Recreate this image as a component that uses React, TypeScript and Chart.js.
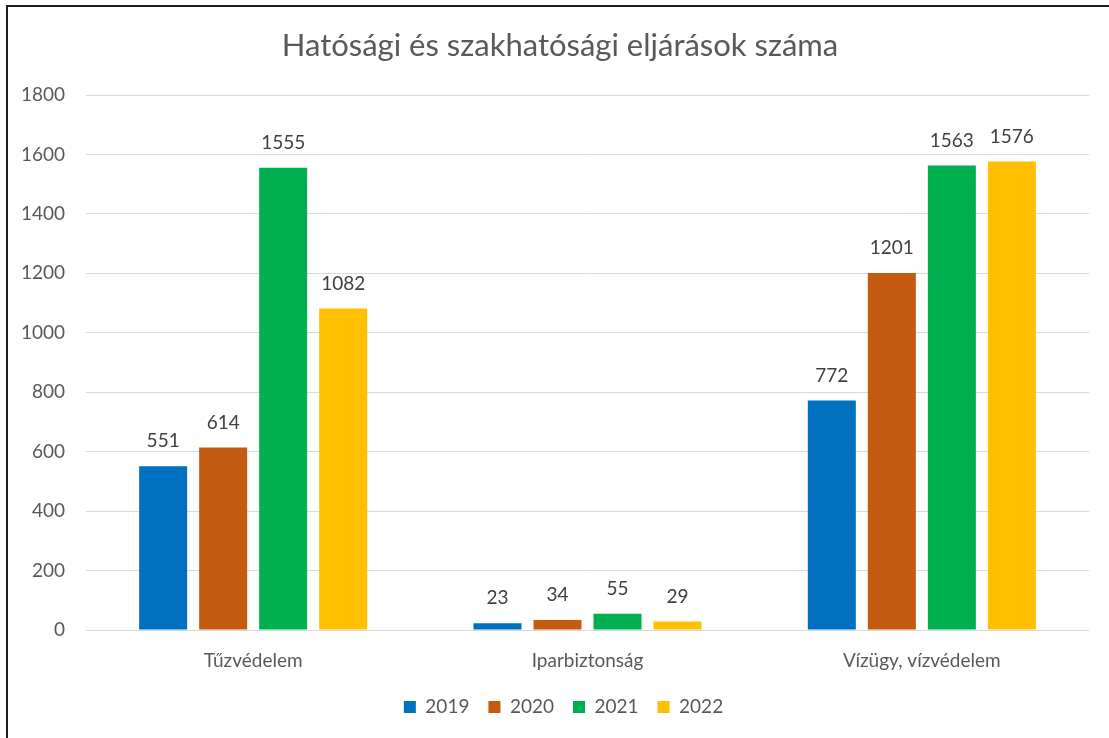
import React, { useEffect, useRef } from "react";
import { Chart, registerables } from "chart.js";

Chart.register(...registerables);

const categories = ["Tűzvédelem", "Iparbiztonság", "Vízügy, vízvédelem"];
const seriesNames = ["2019", "2020", "2021", "2022"];
const values2019 = [551, 23, 772];
const values2020 = [614, 34, 1201];
const values2021 = [1555, 55, 1563];
const values2022 = [1082, 29, 1576];
const seriesColors = ["#0070C0", "#C55A11", "#00B050", "#FFC000"];
const titleText = "Hatósági és szakhatósági eljárások száma";
const yMax = 1800;
const yStep = 200;

const FONT = "Lato, 'Liberation Sans', sans-serif";

const dataLabelPlugin = {
  id: "dataLabels",
  afterDatasetsDraw(chart: any) {
    const ctx = chart.ctx;
    ctx.save();
    ctx.font = `19px ${FONT}`;
    ctx.fillStyle = "#404040";
    ctx.textAlign = "center";
    ctx.textBaseline = "middle";
    chart.data.datasets.forEach((ds: any, di: number) => {
      const meta = chart.getDatasetMeta(di);
      meta.data.forEach((el: any, i: number) => {
        ctx.fillText(String(ds.data[i]), el.x, el.y - 25);
      });
    });
    ctx.restore();
  },
};

const titlePlugin = {
  id: "customTitle",
  afterDraw(chart: any) {
    const ctx = chart.ctx;
    ctx.save();
    ctx.font = `31px ${FONT}`;
    ctx.fillStyle = "#595959";
    ctx.textAlign = "center";
    ctx.textBaseline = "middle";
    ctx.fillText(titleText, 560, 46);
    ctx.restore();
  },
};

// shift the legend box so it is centred like the reference
const legendShiftPlugin = {
  id: "legendShift",
  afterLayout(chart: any) {
    if (chart.legend) {
      chart.legend.left = 38;
    }
  },
};

export default function App() {
  const canvasRef = useRef<HTMLCanvasElement>(null);

  useEffect(() => {
    if (!canvasRef.current) return;
    const allValues = [values2019, values2020, values2021, values2022];
    const chart = new Chart(canvasRef.current, {
      type: "bar",
      data: {
        labels: categories,
        datasets: seriesNames.map((name, i) => ({
          label: name,
          data: allValues[i],
          backgroundColor: seriesColors[i],
          borderWidth: 0,
          categoryPercentage: 0.718,
          barPercentage: 0.8,
        })),
      },
      options: {
        animation: false,
        responsive: false,
        maintainAspectRatio: false,
        layout: { padding: { left: 0, right: 20, top: 95, bottom: 11.5 } },
        plugins: {
          title: { display: false },
          tooltip: { enabled: false },
          legend: {
            position: "bottom",
            labels: {
              boxWidth: 12,
              boxHeight: 12,
              padding: 19,
              color: "#595959",
              font: { family: FONT, size: 19 },
            },
          },
        },
        scales: {
          x: {
            grid: { display: false },
            border: { display: false },
            ticks: {
              color: "#595959",
              font: { family: FONT, size: 19 },
              padding: 11,
            },
            afterFit: (s: any) => {
              s.height = 48.5;
            },
          },
          y: {
            min: 0,
            max: yMax,
            ticks: {
              stepSize: yStep,
              color: "#595959",
              font: { family: FONT, size: 19 },
              padding: 21,
              callback: (v: any) => String(v),
            },
            grid: { color: "#d9d9d9", lineWidth: 1, drawTicks: false },
            border: { display: false },
            afterFit: (s: any) => {
              s.width = 86;
            },
          },
        },
      },
      plugins: [dataLabelPlugin, titlePlugin, legendShiftPlugin],
    });
    return () => chart.destroy();
  }, []);

  return (
    <div
      style={{
        position: "absolute",
        left: 0,
        top: 0,
        width: 1109,
        height: 738,
        overflow: "hidden",
        background: "#fff",
      }}
    >
      <canvas
        ref={canvasRef}
        width={1109}
        height={738}
        style={{ position: "absolute", left: 0, top: 0, width: 1109, height: 738 }}
      />
      <div
        style={{
          position: "absolute",
          left: 6,
          top: 5,
          width: 1200,
          height: 1000,
          borderTop: "2px solid #1e1e1e",
          borderLeft: "2px solid #1e1e1e",
          pointerEvents: "none",
        }}
      />
    </div>
  );
}
